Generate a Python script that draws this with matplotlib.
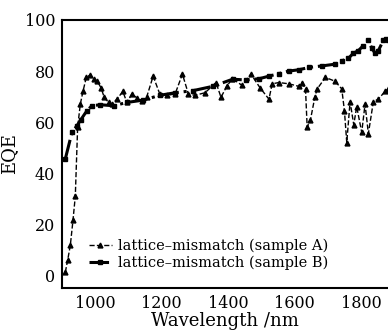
import matplotlib.pyplot as plt

wl_a = [910, 917, 925, 933, 940, 947, 955, 963, 973, 985, 995, 1006, 1017, 1027,
        1040, 1050, 1065, 1083, 1095, 1110, 1125, 1139, 1155, 1174, 1194, 1215,
        1240, 1262, 1280, 1300, 1330, 1363, 1378, 1395, 1412, 1440, 1468, 1495,
        1522, 1532, 1552, 1582, 1612, 1621, 1632, 1637, 1647, 1660, 1667, 1692,
        1721, 1741, 1749, 1756, 1766, 1777, 1786, 1801, 1811, 1821, 1836, 1851,
        1871, 1880]
eqe_a = [1.2, 5.9, 11.7, 21.5, 31, 58, 67, 72, 77.5, 78.5, 77, 76, 73.5, 69.7,
         67.7, 67, 69, 72, 67.7, 71, 69.5, 68.4, 70, 78, 71, 70.5,
         71, 78.8, 71, 70.5, 71.5, 75.5, 69.7, 74, 77, 74.5, 78.8, 73.5,
         69, 75, 75.5, 75, 74, 75.5, 73, 58, 61, 69.7, 73, 77.5,
         76, 73, 64.5, 52, 68, 59, 66, 56, 67, 55.5, 68, 69,
         72, 73]

wl_b = [910, 930, 945, 957, 975, 990, 1015, 1055, 1095, 1144, 1194, 1240, 1293,
        1353, 1413, 1453, 1493, 1522, 1552, 1582, 1612, 1642, 1681, 1721, 1741,
        1761, 1776, 1791, 1806, 1821, 1831, 1841, 1851, 1866, 1875, 1880]
eqe_b = [45.6, 56, 58.6, 61, 64.5, 66.4, 66.8, 66.4, 67.7, 68.6, 70.5, 71.5, 72.3,
         74, 76.8, 76.5, 77, 78, 79, 80, 80.5, 81.4, 82, 82.7, 84,
         85, 87, 88, 90, 92, 89, 87, 88, 92, 92.5, 92]

xticks = [1000, 1200, 1400, 1600, 1800]
yticks = [0, 20, 40, 60, 80, 100]

plt.rcParams['font.family'] = ['DejaVu Serif']

fig = plt.figure(figsize=(3.88, 3.34), dpi=100)
ax = fig.add_axes([62 / 388, 46 / 334, 326 / 388, 268 / 334])

ax.plot(wl_a, eqe_a, '--', color='black', lw=1.0, marker='^', ms=3.5,
        label='lattice\u2013mismatch (sample A)')
ax.plot(wl_b, eqe_b, '-.', color='black', lw=2.2, marker='s', ms=2.5,
        label='lattice\u2013mismatch (sample B)')

ax.set_xlim(900, 1880)
ax.set_ylim(-5, 100)
ax.set_xticks(xticks)
ax.set_yticks(yticks)
ax.tick_params(length=0, labelsize=11.5, pad=5)
ax.spines['right'].set_visible(False)
for s in ['left', 'bottom', 'top']:
    ax.spines[s].set_linewidth(1.5)

ax.set_xlabel('Wavelength /nm', fontsize=13, labelpad=0)
ax.set_ylabel('EQE', fontsize=13)
ax.yaxis.set_label_coords(-0.135, 0.5)

ax.legend(loc='lower left', bbox_to_anchor=(0.05, 0.03), frameon=False,
          fontsize=10.5, handlelength=1.6, handletextpad=0.4, labelspacing=0.15,
          borderpad=0.2)

plt.savefig('out.png')
